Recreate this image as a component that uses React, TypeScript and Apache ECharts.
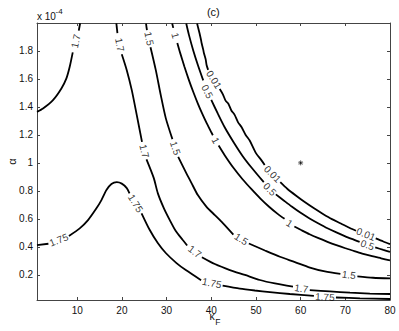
import React, { useEffect, useRef } from "react";
import * as echarts from "echarts";

const FONT = "'Liberation Sans', Arial, Helvetica, sans-serif";

const xTicks = [10, 20, 30, 40, 50, 60, 70, 80];
const yTicks = [0.2, 0.4, 0.6, 0.8, 1, 1.2, 1.4, 1.6, 1.8];

type Pt = [number, number];

// level 1.7, upper-left branch
const c170a: Pt[][] = [
  [[1, 1.365], [2.34, 1.389], [4.58, 1.449], [6.46, 1.532], [7.58, 1.604], [8.32, 1.687], [9.0, 1.79]],
  [[10.35, 1.945], [10.65, 1.998]],
];
const c170aLabels: Pt[] = [[9.7, 1.87]];
const c170aAngles = [78];

// level 1.75
const c175: Pt[][] = [
  [[1, 0.413], [3.55, 0.422]],
  [[8.15, 0.478], [10.56, 0.532], [12.42, 0.591], [14.3, 0.675], [15.42, 0.734], [16.54, 0.806], [17.66, 0.849], [18.85, 0.862], [19.97, 0.852], [21.09, 0.82], [21.7, 0.783]],
  [[24.4, 0.64], [26.24, 0.52], [28.03, 0.427], [29.82, 0.356], [32.22, 0.284], [34.3, 0.234], [37.72, 0.162]],
  [[42.54, 0.122], [46.4, 0.101], [49.76, 0.088], [53.12, 0.077], [57.6, 0.063], [62.97, 0.049]],
  [[67.9, 0.038], [73.28, 0.032], [80, 0.027]],
];
const c175Labels: Pt[] = [[5.86, 0.449], [23.06, 0.711], [40.13, 0.141], [65.43, 0.041]];
const c175Angles = [22, -58, -12, -3];

// level 1.7, main branch
const c170b: Pt[][] = [
  [[18.76, 1.997], [19.0, 1.927]],
  [[19.97, 1.777], [21.09, 1.663], [22.21, 1.52], [23.33, 1.341], [24.5, 1.15]],
  [[25.5, 1.025], [27.14, 0.891], [28.03, 0.784], [29.38, 0.677], [30.72, 0.591], [32.06, 0.513], [33.63, 0.449], [34.6, 0.41]],
  [[37.9, 0.326], [40.8, 0.277], [44.16, 0.234], [47.52, 0.199], [50.88, 0.163], [54.24, 0.138], [58.29, 0.115]],
  [[62.05, 0.091], [66.56, 0.081], [71.04, 0.072], [75.5, 0.066], [80, 0.063]],
];
const c170bLabels: Pt[] = [[19.52, 1.845], [25.0, 1.084], [36.32, 0.365], [60.17, 0.102]];
const c170bAngles = [-78, -76, -37, -8];

// level 1.5
const c150: Pt[][] = [
  [[25.4, 1.996], [25.6, 1.949]],
  [[26.4, 1.827], [27.59, 1.663], [28.7, 1.484], [29.82, 1.32], [31.3, 1.17]],
  [[32.6, 1.043], [34.3, 0.934], [35.58, 0.856], [36.99, 0.77], [38.94, 0.686], [40.8, 0.627], [42.59, 0.57], [44.94, 0.488]],
  [[48.41, 0.424], [52.0, 0.374], [55.36, 0.329], [58.72, 0.291], [62.08, 0.252], [65.44, 0.224], [68.9, 0.206]],
  [[72.7, 0.189], [76.2, 0.179], [80, 0.175]],
];
const c150Labels: Pt[] = [[26.07, 1.888], [31.95, 1.106], [46.73, 0.456], [70.8, 0.199]];
const c150Angles = [-78, -72, -33, -8];

// level 1
const c100: Pt[][] = [
  [[31.25, 1.996], [31.5, 1.965]],
  [[32.4, 1.857], [33, 1.79], [34, 1.687], [35, 1.592], [36, 1.505], [37, 1.424], [38, 1.35], [39, 1.282], [40, 1.219], [40.35, 1.198]],
  [[41.65, 1.124], [43, 1.055], [45, 0.963], [47, 0.883], [49, 0.812], [51, 0.745], [53, 0.685], [55, 0.632], [56.4, 0.6]],
  [[58.6, 0.545], [60, 0.522], [62, 0.49], [64, 0.462], [66, 0.436], [68, 0.412], [70, 0.39], [72, 0.37], [74, 0.35], [76, 0.333], [78, 0.318], [80, 0.303]],
];
const c100Labels: Pt[] = [[31.95, 1.91], [41.0, 1.16], [57.5, 0.568]];
const c100Angles = [-75, -61, -33];

// level 0.5
const c050: Pt[][] = [
  [[34.4, 1.996], [35.0, 1.915], [36, 1.8], [37, 1.7], [38.2, 1.59]],
  [[40.0, 1.45], [41.5, 1.35], [43, 1.255], [45, 1.148], [47, 1.05], [49, 0.967], [51.75, 0.862]],
  [[54.45, 0.775], [56, 0.737], [58, 0.688], [60, 0.643], [62, 0.603], [64, 0.567], [66, 0.533], [68, 0.503], [70, 0.475], [72, 0.45], [73.2, 0.435]],
  [[76.7, 0.396], [78.5, 0.378], [80, 0.364]],
];
const c050Labels: Pt[] = [[39.1, 1.51], [53.1, 0.812], [74.96, 0.413]];
const c050Angles = [-62, -45, -20];

// level 0.01
const c001: Pt[][] = [
  [[36.83, 1.996], [37.15, 1.955], [37.35, 1.93], [37.7, 1.88], [37.85, 1.855], [38.2, 1.81], [38.35, 1.785], [38.75, 1.74], [38.95, 1.7], [39.3, 1.665]],
  [[41.9, 1.528], [42.6, 1.49], [43.2, 1.445], [43.8, 1.425], [44.5, 1.375], [45.2, 1.345], [46.0, 1.29], [46.8, 1.255], [47.7, 1.2], [48.6, 1.16], [50, 1.07], [51.2, 1.02], [51.95, 0.985]],
  [[55.45, 0.862], [57, 0.815], [59, 0.765], [61, 0.718], [63, 0.675], [65, 0.635], [67, 0.598], [69, 0.567], [71, 0.535], [72.4, 0.515]],
  [[76.8, 0.46], [78.5, 0.438], [80, 0.42]],
];
const c001Labels: Pt[] = [[40.6, 1.595], [53.7, 0.92], [74.6, 0.49]];
const c001Angles = [-58, -45, -22];

const marker: Pt[] = [[60, 1.0]];

const contours = [
  { level: "1.7", segs: c170a, labels: c170aLabels, angles: c170aAngles },
  { level: "1.75", segs: c175, labels: c175Labels, angles: c175Angles },
  { level: "1.7", segs: c170b, labels: c170bLabels, angles: c170bAngles },
  { level: "1.5", segs: c150, labels: c150Labels, angles: c150Angles },
  { level: "1", segs: c100, labels: c100Labels, angles: c100Angles },
  { level: "0.5", segs: c050, labels: c050Labels, angles: c050Angles },
  { level: "0.01", segs: c001, labels: c001Labels, angles: c001Angles },
];

export default function App() {
  const ref = useRef<HTMLDivElement>(null);
  useEffect(() => {
    if (!ref.current) return;
    const chart = echarts.init(ref.current, undefined, { renderer: "svg" });
    const axisColor = "#444";
    const mkX = (pos: "bottom" | "top", labels: boolean) => ({
      type: "value",
      min: 1,
      max: 80,
      position: pos,
      axisLine: { show: true, onZero: false, lineStyle: { color: axisColor, width: 1 } },
      axisTick: { show: true, inside: true, length: 3, customValues: xTicks, lineStyle: { color: axisColor } },
      axisLabel: { show: labels, customValues: xTicks, fontSize: 10, color: "#111", margin: 5, fontFamily: FONT },
      splitLine: { show: false },
    });
    const mkY = (pos: "left" | "right", labels: boolean) => ({
      type: "value",
      min: 0.02,
      max: 2.0,
      position: pos,
      axisLine: { show: true, onZero: false, lineStyle: { color: axisColor, width: 1 } },
      axisTick: { show: true, inside: true, length: 3, customValues: yTicks, lineStyle: { color: axisColor } },
      axisLabel: { show: labels, customValues: yTicks, fontSize: 10, color: "#111", margin: 4, fontFamily: FONT },
      splitLine: { show: false },
    });

    const series: any[] = [];
    contours.forEach((c) => {
      c.segs.forEach((seg) => {
        series.push({
          type: "line",
          data: seg,
          xAxisIndex: 0,
          yAxisIndex: 0,
          symbol: "none",
          smooth: 0.25,
          silent: true,
          lineStyle: { color: "#000", width: 1.8 },
          z: 2,
        });
      });
      series.push({
        type: "scatter",
        xAxisIndex: 0,
        yAxisIndex: 0,
        symbolSize: 1,
        silent: true,
        itemStyle: { color: "rgba(0,0,0,0)" },
        data: c.labels.map((p, i) => ({ value: p, label: { rotate: c.angles[i] } })),
        label: {
          show: true,
          position: "inside",
          formatter: c.level,
          fontSize: 10,
          color: "#000",
          fontFamily: FONT,
        },
        z: 3,
      });
    });
    series.push({
      type: "scatter",
      xAxisIndex: 0,
      yAxisIndex: 0,
      data: marker,
      symbol: "path://M0,-10L0,10M-10,0L10,0M-7,-7L7,7M-7,7L7,-7",
      symbolSize: 5,
      itemStyle: { color: "none", borderColor: "#000", borderWidth: 0.8 },
      silent: true,
      z: 4,
    });

    chart.setOption({
      animation: false,
      backgroundColor: "#fff",
      textStyle: { fontFamily: FONT },
      grid: { left: 37, right: 9, top: 23, bottom: 31 },
      xAxis: [mkX("bottom", true), mkX("top", false)],
      yAxis: [mkY("left", true), mkY("right", false)],
      series,
      graphic: [
        { type: "text", x: 213.3, y: 12, style: { text: "(c)", font: `11px ${FONT}`, fill: "#111", textAlign: "center", textVerticalAlign: "middle", align: "center", verticalAlign: "middle" } },
        { type: "text", x: 37, y: 16, style: { text: "x 10", font: `10px ${FONT}`, fill: "#111", textAlign: "left", textVerticalAlign: "middle", align: "left", verticalAlign: "middle" } },
        { type: "text", x: 55.5, y: 11.5, style: { text: "-4", font: `8px ${FONT}`, fill: "#111", textAlign: "left", textVerticalAlign: "middle", align: "left", verticalAlign: "middle" } },
        { type: "text", x: 212, y: 316, style: { text: "κ", font: `10.5px ${FONT}`, fill: "#111", textAlign: "center", textVerticalAlign: "middle", align: "center", verticalAlign: "middle" } },
        { type: "text", x: 217.8, y: 321.5, style: { text: "F", font: `8.5px ${FONT}`, fill: "#111", textAlign: "center", textVerticalAlign: "middle", align: "center", verticalAlign: "middle" } },
        { type: "text", x: 11.5, y: 161.5, rotation: Math.PI / 2, style: { text: "α", font: `11px ${FONT}`, fill: "#111", textAlign: "center", textVerticalAlign: "middle", align: "center", verticalAlign: "middle" } },
      ],
    });
    return () => chart.dispose();
  }, []);
  return (
    <div
      ref={ref}
      style={{ position: "fixed", left: 0, top: 0, width: 399, height: 331, background: "#fff" }}
    />
  );
}
